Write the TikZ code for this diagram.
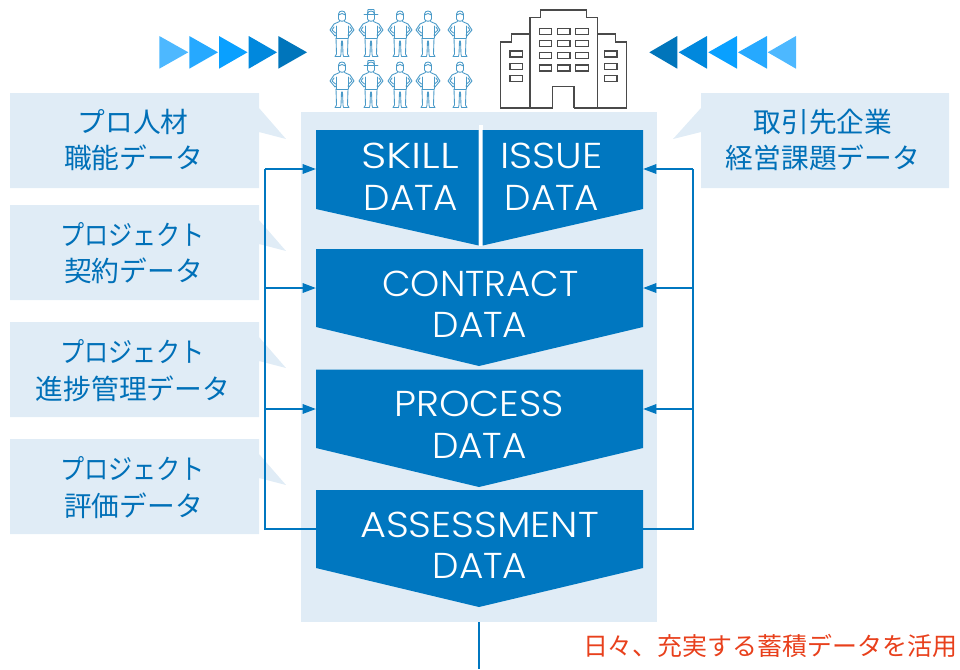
\documentclass[tikz,border=0pt]{standalone}
\usepackage{fontspec}
\setmainfont{Poppins Light}
\newfontfamily\jp{Noto Sans CJK JP}
\usetikzlibrary{arrows.meta}
\definecolor{panel}{HTML}{E0ECF6}
\definecolor{mainblue}{HTML}{0077C0}
\definecolor{jptext}{HTML}{0070B8}
\definecolor{redtext}{HTML}{E8401C}
\definecolor{personc}{HTML}{4A9AC8}
\definecolor{bldg}{HTML}{4A4A4A}
\definecolor{ta}{HTML}{4DB8FF}
\definecolor{tb}{HTML}{26A9FF}
\definecolor{tc}{HTML}{09A0FF}
\definecolor{td}{HTML}{0088DD}
\definecolor{te}{HTML}{0075BB}
\tikzset{
  px/.style={x=0.75pt,y=-0.75pt},
  panelfill/.style={fill=panel,draw=none},
  datashape/.style={fill=mainblue,draw=none},
  fitx/.style={xscale=#1,transform shape},
  datalabel/.style={text=white,font=\fontsize{27}{27}\selectfont,inner sep=0pt,anchor=center},
  jplabel/.style={text=jptext,font=\jp\fontsize{20.8}{20.8}\selectfont,inner sep=0pt,anchor=center},
  redlabel/.style={text=redtext,font=\jp\fontsize{18.7}{18.7}\selectfont,inner sep=0pt,anchor=center},
  bus/.style={draw=mainblue,line width=1.6pt},
  busarrow/.style={draw=mainblue,line width=1.6pt,-{Triangle[length=10pt,width=7pt]}},
  bldgline/.style={draw=bldg,line width=1pt,fill=none,line join=miter},
  personline/.style={draw=personc,line width=0.65pt,fill=none,line join=round,line cap=round},
  pics/person/.style={code={
    \draw[personline] (-3.5,-19) -- (-3.5,-14) .. controls (-3,-11) and (3,-11) .. (3.5,-14) -- (3.5,-19) .. controls (3,-23) and (-3,-23) .. (-3.5,-19) -- cycle;
    #1
    \draw[personline] (-2.5,-11.5) -- (-8,-9) -- (-12,-3) -- (-7,3) -- (-6,2);
    \draw[personline] (2.5,-11.5) -- (8,-9) -- (12,-3) -- (7,3) -- (6,2);
    \draw[personline] (-8,-6) -- (-10,-3) -- (-6.5,0);
    \draw[personline] (8,-6) -- (10,-3) -- (6.5,0);
    \draw[personline] (-6,-7) -- (-6,5);
    \draw[personline] (6,-7) -- (6,5);
    \draw[personline] (-6,5) -- (6,5);
    \draw[personline] (-6,5) -- (-5.5,21) -- (-7,23.5) -- (-1.5,23.5) -- (-1,21) -- (-0.5,8) -- (0.5,8) -- (1,21) -- (1.5,23.5) -- (7,23.5) -- (5.5,21) -- (6,5);
  }},
}
\newcommand{\hatshape}{\draw[personline] (-7,-19) -- (7,-19); \draw[personline] (-3.5,-19) -- (-3,-23.5) -- (3,-23.5) -- (3.5,-19);}
\newcommand{\hairshape}{\draw[personline] (-3.5,-18) .. controls (-1,-20) and (1,-20) .. (3.5,-18);}
\begin{document}
\begin{tikzpicture}[px]
\useasboundingbox (0,0) rectangle (960,669);
% panel
\fill[panelfill] (301,112) rectangle (657,622);
% callouts
\foreach \t in {93,205,322,439}{
  \fill[panelfill] (10,\t) -- (259,\t) -- (259,\t+15) -- (286,\t+46) -- (259,\t+39) -- (259,\t+95) -- (10,\t+95) -- cycle;
}
\fill[panelfill] (949,93) -- (701,93) -- (701,108) -- (673,139) -- (701,132) -- (701,188) -- (949,188) -- cycle;
% white divider between skill and issue
\fill[white] (479,125) rectangle (482.5,246);
% data shapes
\fill[datashape] (316,130) -- (478.7,130) -- (478.7,245.5) -- (316,209) -- cycle;
\fill[datashape] (482.7,130) -- (643,130) -- (643,209) -- (482.7,245.5) -- cycle;
\fill[datashape] (316,249) -- (643,249) -- (643,327) -- (479,366) -- (316,327) -- cycle;
\fill[datashape] (316,369.5) -- (643,369.5) -- (643,448) -- (479,487) -- (316,448) -- cycle;
\fill[datashape] (316,490) -- (643,490) -- (643,568) -- (479,607) -- (316,568) -- cycle;
% labels
\node[datalabel,fitx=1.23] (skillA) at (410,156) {SKILL};
\node[datalabel,fitx=1.04] (skillB) at (411,198) {DATA};
\node[datalabel,fitx=1.12] (issueA) at (551.5,156) {ISSUE};
\node[datalabel,fitx=1.04] (issueB) at (552,198) {DATA};
\node[datalabel,fitx=1.03] (contractA) at (480.5,284) {CONTRACT};
\node[datalabel,fitx=1.04] (contractB) at (480,325) {DATA};
\node[datalabel,fitx=1.08] (processA) at (479,404) {PROCESS};
\node[datalabel,fitx=1.04] (processB) at (479.5,446) {DATA};
\node[datalabel,fitx=1.107] (assessA) at (479.5,525) {ASSESSMENT};
\node[datalabel,fitx=1.04] (assessB) at (480,566) {DATA};
\node[jplabel] (c1a) at (133,121.7) {プロ人材};
\node[jplabel] (c1b) at (133.5,157.7) {職能データ};
\node[jplabel,fitx=0.87] (c2a) at (132.5,234.5) {プロジェクト};
\node[jplabel] (c2b) at (133.5,270.7) {契約データ};
\node[jplabel,fitx=0.87] (c3a) at (132.5,351.7) {プロジェクト};
\node[jplabel] (c3b) at (133,388.7) {進捗管理データ};
\node[jplabel,fitx=0.87] (c4a) at (132.5,468.7) {プロジェクト};
\node[jplabel] (c4b) at (133.5,505.7) {評価データ};
\node[jplabel] (r1a) at (823,121.7) {取引先企業};
\node[jplabel] (r1b) at (823,157.7) {経営課題データ};
\node[redlabel] (red) at (770,645.5) {日々、充実する蓄積データを活用};
% connectors
\coordinate (skillW) at (316,169);
\coordinate (contractW) at (316,288);
\coordinate (processW) at (316,409);
\coordinate (assessW) at (316,529);
\coordinate (issueE) at (643,169);
\coordinate (contractE) at (643,288);
\coordinate (processE) at (643,409);
\coordinate (assessE) at (643,529);
\coordinate (busLb) at (265,529);
\coordinate (busLt) at (265,169);
\coordinate (busLc) at (265,288);
\coordinate (busLp) at (265,409);
\coordinate (busRb) at (693,529);
\coordinate (busRt) at (693,169);
\coordinate (busRc) at (693,288);
\coordinate (busRp) at (693,409);
\coordinate (panelS) at (479,622);
\coordinate (pageS) at (479,669);
\draw[bus] (assessW) -- (busLb) -- (busLt);
\draw[busarrow] (busLt) -- (skillW);
\draw[busarrow] (busLc) -- (contractW);
\draw[busarrow] (busLp) -- (processW);
\draw[bus] (assessE) -- (busRb) -- (busRt);
\draw[busarrow] (busRt) -- (issueE);
\draw[busarrow] (busRc) -- (contractE);
\draw[busarrow] (busRp) -- (processE);
\draw[bus] (panelS) -- (pageS);
% triangles
\fill[ta] (159.3,36) -- (188.3,52.3) -- (159.3,68.7) -- cycle;
\fill[tb] (189.3,36) -- (218,52.3) -- (189.3,68.7) -- cycle;
\fill[tc] (219,36) -- (247.5,52.3) -- (219,68.7) -- cycle;
\fill[td] (248.7,36) -- (277,52.3) -- (248.7,68.7) -- cycle;
\fill[te] (278.3,36) -- (307,52.3) -- (278.3,68.7) -- cycle;
\fill[te] (677.3,36) -- (649.3,52.3) -- (677.3,68.7) -- cycle;
\fill[td] (707,36) -- (678.7,52.3) -- (707,68.7) -- cycle;
\fill[tc] (737,36) -- (708.3,52.3) -- (737,68.7) -- cycle;
\fill[tb] (767,36) -- (738,52.3) -- (767,68.7) -- cycle;
\fill[ta] (796,36) -- (767.7,52.3) -- (796,68.7) -- cycle;
% people
\foreach \y in {33,84}{
  \pic at (342,\y) {person={\hairshape}};
  \pic at (371,\y) {person={\hatshape}};
  \pic at (400,\y) {person={\hairshape}};
  \pic at (428,\y) {person={\hairshape}};
  \pic at (460,\y) {person={\hairshape}};
}
% building
\draw[bldgline] (552.7,108) -- (500.7,108) -- (500.7,42) -- (511.7,42) -- (511.7,34) -- (530,34) -- (530,17.3) -- (540.7,17.3) -- (540.7,10) -- (586.7,10) -- (586.7,17.3) -- (597.3,17.3) -- (597.3,34) -- (615.7,34) -- (615.7,42) -- (626.7,42) -- (626.7,108) -- (574,108);
\draw[bldgline] (530,34) -- (530,108);
\draw[bldgline] (597.3,34) -- (597.3,108);
\draw[bldgline] (552.7,108) -- (552.7,86.7) -- (574,86.7) -- (574,108);
\foreach \yy in {28.3,40.7,52.7,65}{
  \draw[bldgline] (539.3,\yy) rectangle (551.7,\yy+6);
  \draw[bldgline] (557.3,\yy) rectangle (570,\yy+6);
  \draw[bldgline] (575.3,\yy) rectangle (588.3,\yy+6);
}
\foreach \yy in {51,63.3,75.7}{
  \draw[bldgline] (510,\yy) rectangle (522.7,\yy+6);
  \draw[bldgline] (604.3,\yy) rectangle (617,\yy+6);
}
\end{tikzpicture}
\end{document}
